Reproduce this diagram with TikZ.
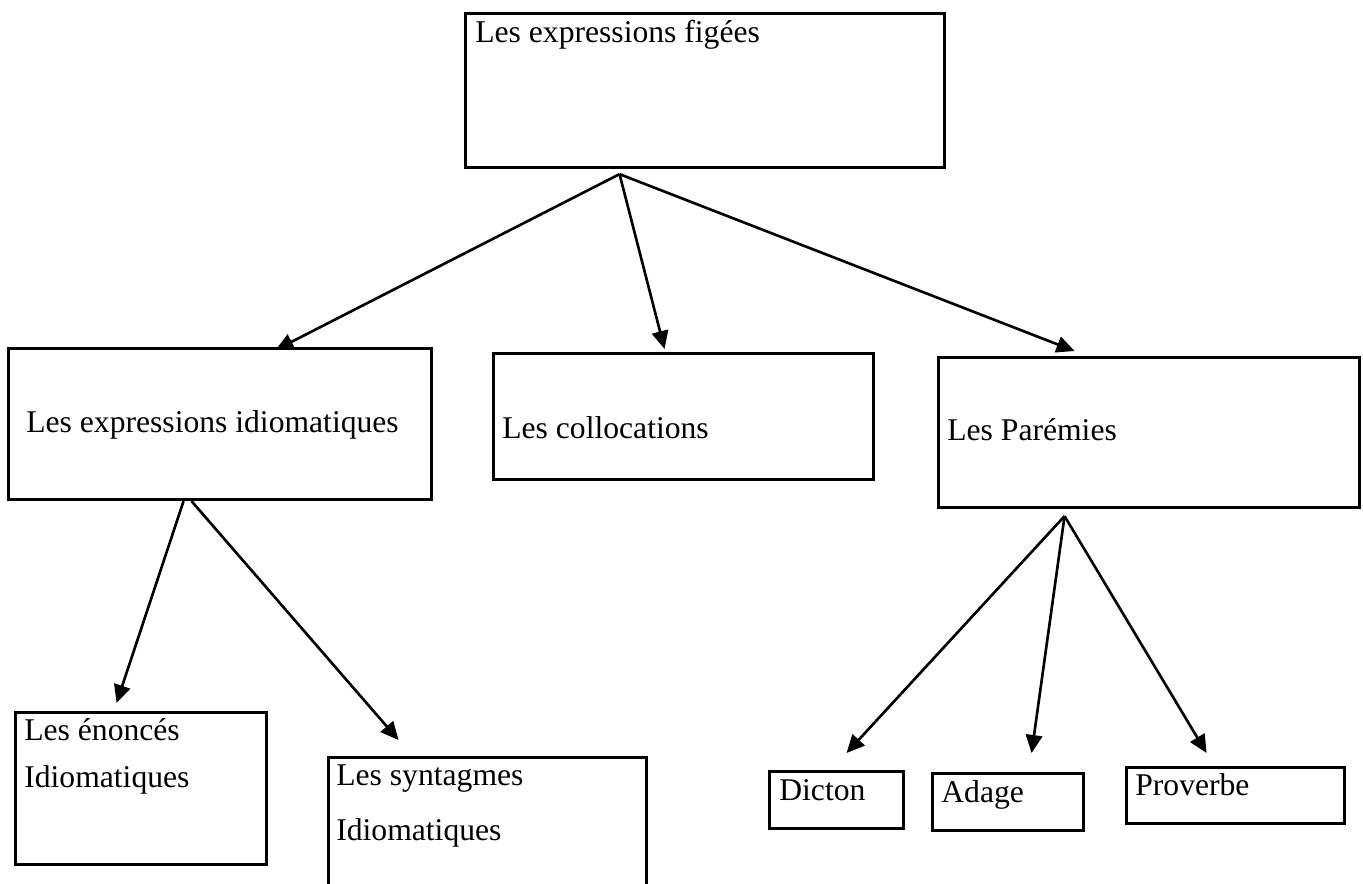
\documentclass[tikz,border=0pt]{standalone}
\usepackage{fontspec}
\setmainfont{Liberation Serif}
\usetikzlibrary{arrows.meta,calc}

\begin{document}
\begin{tikzpicture}[
  x=0.02cm, y=-0.02cm,
  box/.style={draw, line width=1.8pt, anchor=north west, inner sep=0pt},
  txt/.style={anchor=base west, inner sep=0pt, align=left, font=\fontsize{18}{22}\selectfont},
  arr/.style={-{Triangle[length=3.6mm, width=3.3mm]}, line width=1.5pt},
]
  \useasboundingbox (0,0) rectangle (1363,883);
  \clip (0,0) rectangle (1363,883);

  % Row 0: root
  \node[box, minimum width=9.58cm, minimum height=3.08cm] (figees) at (464,12) {};
  \node[txt] (figees-txt) at ([shift={(11,30)}]figees.north west) {Les expressions figées};

  % Row 1: three kinds
  \node[box, minimum width=8.46cm, minimum height=3.02cm] (idiom) at (7,347) {};
  \node[txt] (idiom-txt) at ([shift={(19,85)}]idiom.north west) {Les expressions idiomatiques};
  \node[box, minimum width=7.6cm, minimum height=2.52cm] (colloc) at (492,352) {};
  \node[txt] (colloc-txt) at ([shift={(10,86)}]colloc.north west) {Les collocations};
  \node[box, minimum width=8.42cm, minimum height=3.0cm] (paremies) at (937,356) {};
  \node[txt] (paremies-txt) at ([shift={(10,84)}]paremies.north west) {Les Parémies};

  % Row 2: sub kinds (base = last line)
  \node[box, minimum width=5.02cm, minimum height=3.04cm] (enonces) at (14,711) {};
  \node[txt, font=\fontsize{18}{26.7}\selectfont] (enonces-txt) at ([shift={(10,76)}]enonces.north west) {Les énoncés\\Idiomatiques};
  \node[box, minimum width=6.36cm, minimum height=3.2cm] (syntagmes) at (327,756) {};
  \node[txt, font=\fontsize{18}{31.3}\selectfont] (syntagmes-txt) at ([shift={(9,84)}]syntagmes.north west) {Les syntagmes\\Idiomatiques};
  \node[box, minimum width=2.68cm, minimum height=1.14cm] (dicton) at (768,770) {};
  \node[txt] (dicton-txt) at ([shift={(11,30)}]dicton.north west) {Dicton};
  \node[box, minimum width=3.02cm, minimum height=1.14cm] (adage) at (931,772) {};
  \node[txt] (adage-txt) at ([shift={(10,30)}]adage.north west) {Adage};
  \node[box, minimum width=4.36cm, minimum height=1.12cm] (proverbe) at (1125,766) {};
  \node[txt] (proverbe-txt) at ([shift={(10,29)}]proverbe.north west) {Proverbe};

  % Edges
  \coordinate (figees-out) at ([shift={(-85.5,5)}]figees.south);
  \draw[arr] (figees-out) -- ([shift={(55.5,3)}]idiom.north);
  \draw[arr] (figees-out) -- ([shift={(-19,-3)}]colloc.north);
  \draw[arr] (figees-out) -- ([shift={(-74.5,-5)}]paremies.north);
  \draw[arr] ([shift={(-36.5,0)}]idiom.south) -- ([shift={(-24.5,-8)}]enonces.north);
  \draw[arr] ([shift={(-28.5,0)}]idiom.south) -- ([shift={(-89,-16)}]syntagmes.north);
  \coordinate (paremies-out) at ([shift={(-84.5,7)}]paremies.south);
  \draw[arr] (paremies-out) -- ([shift={(10,-17)}]dicton.north);
  \draw[arr] (paremies-out) -- ([shift={(23.5,-19)}]adage.north);
  \draw[arr] (paremies-out) -- ([shift={(-29,-13)}]proverbe.north);
\end{tikzpicture}
\end{document}
